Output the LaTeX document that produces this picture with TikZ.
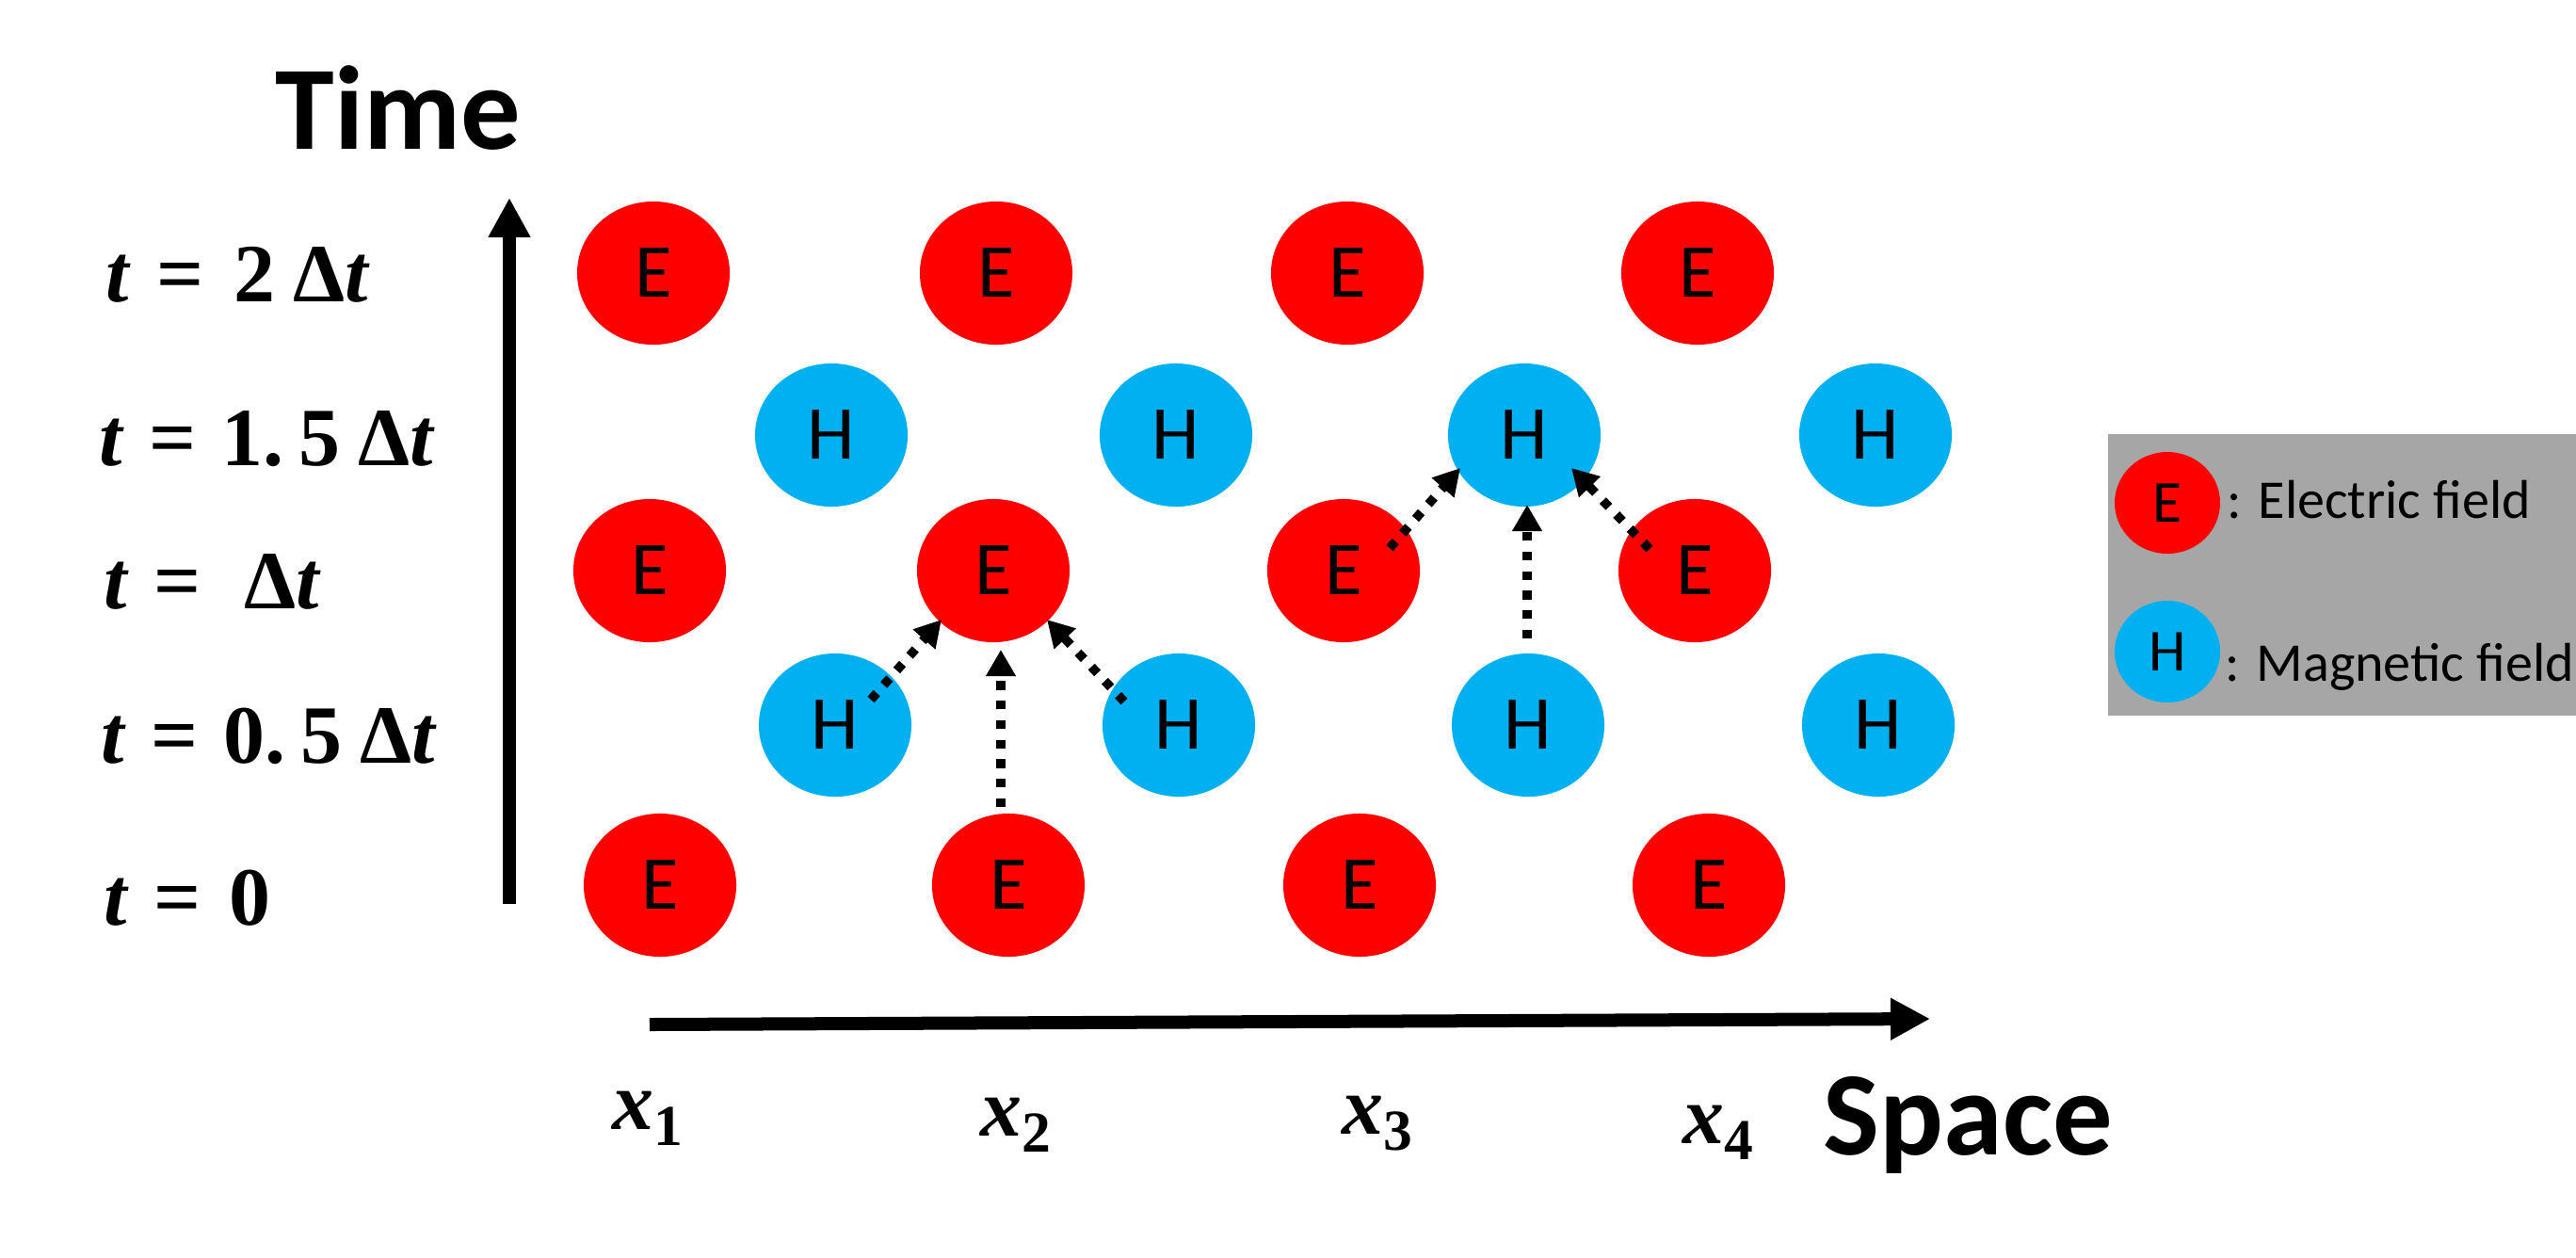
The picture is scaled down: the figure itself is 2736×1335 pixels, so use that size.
\documentclass[tikz,border=0pt]{standalone}
\usepackage{fontspec}
\newfontfamily\carl{Carlito}
\newfontfamily\mth{Liberation Serif}
\usetikzlibrary{arrows.meta,calc,shapes.geometric}
\definecolor{eRed}{HTML}{FF0000}
\definecolor{hBlue}{HTML}{00B0F0}
\definecolor{legGray}{HTML}{A6A6A6}
\newcommand\bit[1]{{\bfseries\itshape #1}}
\newcommand\gap[1]{\hspace*{#1cm}}
\newcommand\subnum[1]{\raisebox{-0.17cm}{\fontsize{17.5}{20}\selectfont\bfseries #1}}
\begin{document}
\begin{tikzpicture}[x=0.01cm,y=-0.01cm,
  fieldnode/.style={ellipse, minimum width=1.62cm, minimum height=1.52cm, inner sep=0pt,
    font=\carl\fontsize{23}{27}\selectfont},
  efield/.style={fieldnode, fill=eRed},
  hfield/.style={fieldnode, fill=hBlue},
  legnode/.style={ellipse, minimum width=1.12cm, minimum height=1.08cm, inner sep=0pt,
    font=\carl\fontsize{18}{21}\selectfont},
  legtext/.style={anchor=base west, inner sep=0pt, font=\carl\fontsize{16.5}{20}\selectfont},
  tlab/.style={anchor=base west, inner sep=0pt, font=\mth\bfseries\fontsize{25}{29}\selectfont},
  xlab/.style={anchor=base west, inner sep=0pt, font=\mth\bfseries\fontsize{25}{29}\selectfont},
  axislabel/.style={anchor=base west, inner sep=0pt, font=\carl\bfseries\fontsize{36}{40}\selectfont},
  axisarrow/.style={line width=0.14cm, -{Triangle[length=0.42cm,width=0.42cm]}},
  dotarrow/.style={line width=0.096cm, dash pattern=on 0.093cm off 0.114cm,
    -{Triangle[length=0.28cm,width=0.30cm]}}
]
\useasboundingbox (0,0) rectangle (2736,1335);

% legend background
\fill[legGray] (2239,461) rectangle (2736,760);

% axis labels
\node[axislabel] (timelab) at (292,158) {Time};
\node[axislabel] (spacelab) at (1936,1226) {Space};

% time labels
\node[tlab] (t20) at (112,320) {\bit{t}\gap{0.29}=\gap{0.32}2\gap{0.19}Δ\bit{t}};
\node[tlab] (t15) at (105,494) {\bit{t}\gap{0.28}=\gap{0.27}1.\gap{0.16}5\gap{0.19}Δ\bit{t}};
\node[tlab] (t10) at (110,646) {\bit{t}\gap{0.28}=\gap{0.46}Δ\bit{t}};
\node[tlab] (t05) at (107,810) {\bit{t}\gap{0.28}=\gap{0.27}0.\gap{0.16}5\gap{0.19}Δ\bit{t}};
\node[tlab] (t00) at (110,982) {\bit{t}\gap{0.28}=\gap{0.30}0};

% space labels
\node[xlab] (x1) at (650,1199) {\bit{x}\subnum{1}};
\node[xlab] (x2) at (1041,1206) {\bit{x}\subnum{2}};
\node[xlab] (x3) at (1425,1204) {\bit{x}\subnum{3}};
\node[xlab] (x4) at (1787,1214) {\bit{x}\subnum{4}};

% axes
\coordinate (tbot) at (541,960);
\coordinate (ttop) at (541,210);
\draw[axisarrow] (tbot) -- (ttop);
\coordinate (sleft) at (690,1088);
\coordinate (sright) at (2050,1082);
\draw[axisarrow] (sleft) -- (sright);

% field nodes
\node[efield] (e2a) at (694,290) {E};
\node[efield] (e2b) at (1058,290) {E};
\node[efield] (e2c) at (1431,290) {E};
\node[efield] (e2d) at (1803,290) {E};

\node[hfield] (h15a) at (883,462) {H};
\node[hfield] (h15b) at (1249,462) {H};
\node[hfield] (h15c) at (1619,462) {H};
\node[hfield] (h15d) at (1992,462) {H};

\node[efield] (e1a) at (690,606) {E};
\node[efield] (e1b) at (1055,606) {E};
\node[efield] (e1c) at (1427,606) {E};
\node[efield] (e1d) at (1800,606) {E};

\node[hfield] (h05a) at (887,770) {H};
\node[hfield] (h05b) at (1252,770) {H};
\node[hfield] (h05c) at (1623,770) {H};
\node[hfield] (h05d) at (1995,770) {H};

\node[efield] (e0a) at (701,940) {E};
\node[efield] (e0b) at (1071,940) {E};
\node[efield] (e0c) at (1444,940) {E};
\node[efield] (e0d) at (1815,940) {E};

% update arrows
\draw[dotarrow] ($(e0b)+(-8,-83)$) -- ($(e1b)+(8,84)$);
\draw[dotarrow] ($(h05a)+(38,-27)$) -- ($(e1b)+(-55,52)$);
\draw[dotarrow] ($(h05b)+(-58,-25)$) -- ($(e1b)+(57,52)$);
\draw[dotarrow] ($(h05c)+(-1,-92)$) -- ($(h15c)+(3,74)$);
\draw[dotarrow] ($(e1c)+(49,-24)$) -- ($(h15c)+(-68,35)$);
\draw[dotarrow] ($(e1d)+(-48,-23)$) -- ($(h15c)+(50,35)$);

% legend
\node[legnode, fill=eRed] (legE) at (2302,534) {E};
\node[legnode, fill=hBlue] (legH) at (2302,692) {H};
\node[legtext] (legEt) at (2365,550) {: Electric field};
\node[legtext] (legHt) at (2363,723) {: Magnetic field};
\end{tikzpicture}
\end{document}
